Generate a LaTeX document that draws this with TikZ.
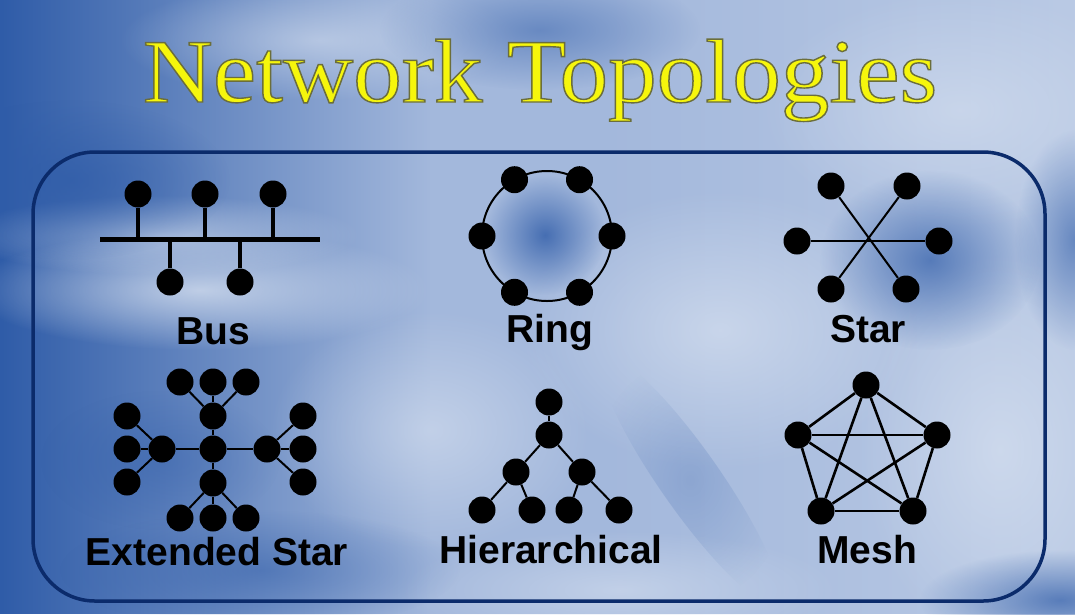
\documentclass[tikz,border=0pt]{standalone}
\usepackage{fontspec}
\setmainfont{Liberation Serif}
\newfontfamily\lblfont{Liberation Sans}
\usetikzlibrary{fadings,calc}
\tikzfading[name=blobfade, inner color=transparent!0, outer color=transparent!100]
\tikzfading[name=leftfade, left color=transparent!0, right color=transparent!100]
\tikzfading[name=rightfade, left color=transparent!100, right color=transparent!0]
\definecolor{bgmid}{HTML}{A3B8DC}
\definecolor{deep}{HTML}{2F5CA8}
\definecolor{cloud}{HTML}{D6E0F0}
\definecolor{navy}{HTML}{0B2B6B}
\definecolor{ttlyellow}{HTML}{F6F60C}
\newcommand\outlinedtext[1]{\special{pdf:literal direct 0.42 0.43 0.23 RG 1.4 w 2 Tr}#1\special{pdf:literal direct 0 Tr}}
\tikzset{
  dot/.style={circle, fill=black, minimum size=27pt, inner sep=0pt},
  lbl/.style={anchor=base, text=black, font=\lblfont\bfseries\fontsize{39}{39}\selectfont},
  thinlink/.style={draw=black, line width=2pt},
  midlink/.style={draw=black, line width=2.6pt},
  busline/.style={draw=black, line width=5pt},
  stem/.style={draw=black, line width=4pt},
  frame/.style={draw=navy, line width=3.5pt, rounded corners=62pt},
  ttl/.style={anchor=base, inner sep=0pt, xscale=1.072, text=ttlyellow, font=\fontsize{90.6}{90}\selectfont},
  lightblob/.style={fill=cloud, path fading=blobfade},
  darkblob/.style={fill=deep, path fading=blobfade}
}
\begin{document}
\begin{tikzpicture}[x=1pt, y=-1pt]
\useasboundingbox (0,0) rectangle (1075,614);
\clip (0,0) rectangle (1075,614);
% ---------- background ----------
\fill[bgmid] (0,0) rectangle (1075,614);
\fill[deep, path fading=leftfade] (0,0) rectangle (430,614);
\fill[cloud, path fading=rightfade, opacity=0.45] (600,0) rectangle (1075,614);
\fill[lightblob, opacity=0.8] (200,290) ellipse (230 and 60);
\fill[lightblob, opacity=0.6] (160,235) ellipse (200 and 40);
\fill[lightblob, opacity=0.7] (720,330) ellipse (200 and 140);
\fill[lightblob, opacity=0.6] (430,430) ellipse (160 and 120);
\fill[lightblob, opacity=0.7] (1000,450) ellipse (140 and 200);
\fill[lightblob, opacity=0.6] (960,110) ellipse (200 and 120);
\fill[lightblob, opacity=0.6] (320,40) ellipse (200 and 60);
\fill[lightblob, opacity=0.6] (620,590) ellipse (220 and 60);
\fill[darkblob, opacity=0.8] (545,235) ellipse (60 and 60);
\fill[darkblob, opacity=0.7] (930,260) ellipse (110 and 90);
\fill[darkblob, opacity=0.6] (1075,240) ellipse (60 and 110);
\fill[darkblob, opacity=0.5] (540,30) ellipse (160 and 60);
\fill[darkblob, opacity=0.7] (70,180) ellipse (160 and 80);
\fill[darkblob, opacity=0.5] (260,570) ellipse (200 and 60);
\fill[darkblob, opacity=0.7] (1060,600) ellipse (140 and 50);
\fill[darkblob, opacity=0.22, rotate around={-55:(690,480)}] (690,480) ellipse (150 and 30);
\fill[darkblob, opacity=0.4] (160,460) ellipse (120 and 70);
% ---------- title ----------
\node[ttl] (title) at (540,102) {\outlinedtext{Network Topologies}};
% ---------- frame ----------
\draw[frame] (33,152) rectangle (1045,601);
% ---------- Bus ----------
\coordinate (busL) at (100,239);
\coordinate (busR) at (320,239);
\node[dot] (b1) at (138,194) {};
\node[dot] (b2) at (205,194) {};
\node[dot] (b3) at (273,194) {};
\node[dot] (b4) at (170,282) {};
\node[dot] (b5) at (240,282) {};
\coordinate (s1) at (138,239);
\coordinate (s2) at (205,239);
\coordinate (s3) at (273,239);
\coordinate (s4) at (170,239);
\coordinate (s5) at (240,239);
\draw[busline] (busL) -- (busR);
\foreach \i in {1,...,5} \draw[stem] (b\i) -- (s\i);
\node[lbl] (buslbl) at (213,344) {Bus};
% ---------- Ring ----------
\coordinate (ringc) at (547,236);
\draw[thinlink] (ringc) circle[radius=65];
\foreach \a [count=\i] in {0,60,120,180,240,300}
  \node[dot] (r\i) at ($(ringc)+(\a:65)$) {};
\node[lbl] (ringlbl) at (550,342) {Ring};
% ---------- Star ----------
\node[dot] (st1) at (831,186) {};
\node[dot] (st2) at (907,186) {};
\node[dot] (st3) at (797,241) {};
\node[dot] (st4) at (939,241) {};
\node[dot] (st5) at (831,289) {};
\node[dot] (st6) at (906,289) {};
\draw[thinlink] (st1) -- (st6);
\draw[thinlink] (st2) -- (st5);
\draw[thinlink] (st3) -- (st4);
\node[lbl] (starlbl) at (868,342) {Star};
% ---------- Extended Star ----------
\node[dot] (ec) at (213,449) {};
\node[dot] (et) at (213,416) {};
\node[dot] (eb) at (213,483) {};
\node[dot] (el) at (162,449) {};
\node[dot] (er) at (267,449) {};
\node[dot] (et1) at (180,382) {};
\node[dot] (et2) at (213,382) {};
\node[dot] (et3) at (246,382) {};
\node[dot] (eb1) at (180,518) {};
\node[dot] (eb2) at (213,518) {};
\node[dot] (eb3) at (246,518) {};
\node[dot] (el1) at (127,416) {};
\node[dot] (el2) at (127,449) {};
\node[dot] (el3) at (127,482) {};
\node[dot] (er1) at (303,416) {};
\node[dot] (er2) at (303,449) {};
\node[dot] (er3) at (303,482) {};
\foreach \m in {et,eb,el,er} {
  \draw[thinlink] (ec) -- (\m);
  \foreach \k in {1,2,3} \draw[thinlink] (\m) -- (\m\k);
}
\node[lbl] (extlbl) at (217,565) {Extended Star};
% ---------- Hierarchical ----------
\node[dot] (h0) at (549,402) {};
\node[dot] (h1) at (549,435) {};
\node[dot] (h2) at (516,472) {};
\node[dot] (h3) at (582,472) {};
\node[dot] (h4) at (482,510) {};
\node[dot] (h5) at (532,510) {};
\node[dot] (h6) at (569,510) {};
\node[dot] (h7) at (619,510) {};
\draw[thinlink] (h0) -- (h1);
\draw[thinlink] (h1) -- (h2);
\draw[thinlink] (h1) -- (h3);
\draw[thinlink] (h2) -- (h4);
\draw[thinlink] (h2) -- (h5);
\draw[thinlink] (h3) -- (h6);
\draw[thinlink] (h3) -- (h7);
\node[lbl] (hierlbl) at (551,563) {Hierarchical};
% ---------- Mesh ----------
\node[dot] (m1) at (866,385) {};
\node[dot] (m2) at (798,435) {};
\node[dot] (m3) at (937,435) {};
\node[dot] (m4) at (821,511) {};
\node[dot] (m5) at (913,511) {};
\foreach \p/\q in {m1/m2,m1/m3,m1/m4,m1/m5,m2/m3,m2/m4,m2/m5,m3/m4,m3/m5,m4/m5}
  \draw[midlink] (\p) -- (\q);
\node[lbl] (meshlbl) at (867,563) {Mesh};
\end{tikzpicture}
\end{document}
